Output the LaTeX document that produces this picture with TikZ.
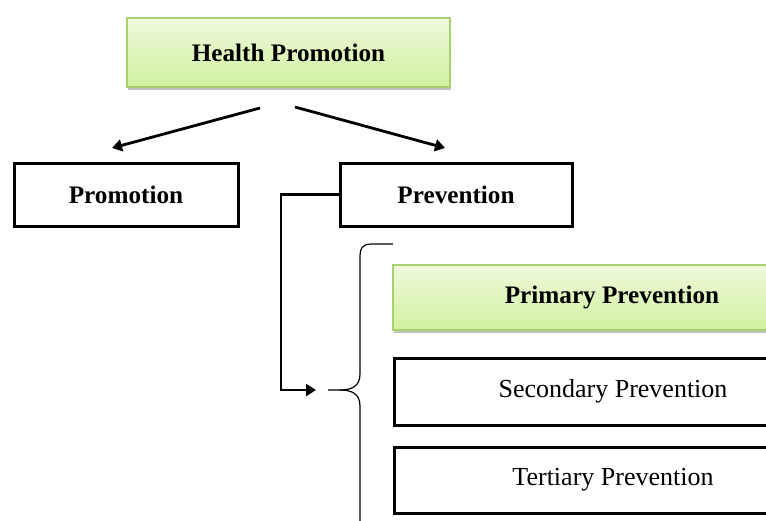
\documentclass[tikz,border=0pt]{standalone}
\usepackage{fontspec}
\setmainfont{Liberation Serif}
\usetikzlibrary{shadows,arrows.meta}

\definecolor{gtop}{HTML}{EEF9DC}
\definecolor{gbot}{HTML}{D2F1A0}
\definecolor{gline}{HTML}{A8D070}
\newcommand{\headfont}{\fontsize{12.6}{14}\selectfont\bfseries}
\newcommand{\bodyfont}{\fontsize{13}{15}\selectfont}

\tikzset{
  greenbox/.style={draw=gline, line width=0.8pt, top color=gtop, bottom color=gbot,
    drop shadow={shadow xshift=0.6pt, shadow yshift=-1.5pt, opacity=0.35, fill=black!70}},
  plainbox/.style={draw=black, line width=1.5pt, fill=white},
  link/.style={line width=1.4pt, -{Triangle[length=5pt,width=6pt]}},
  bracket/.style={line width=0.6pt}
}

\begin{document}
\begin{tikzpicture}[x=0.5pt, y=-0.5pt]
\useasboundingbox (0,0) rectangle (766,520);
\clip (0,0) rectangle (766,520);

\node[greenbox, minimum width=161.5pt, minimum height=34.5pt] (health) at (288.5,52.5) {\headfont Health Promotion};
\node[plainbox, minimum width=112pt, minimum height=31.5pt] (promo) at (126,194.5) {\headfont Promotion};
\node[plainbox, minimum width=116pt, minimum height=31.5pt] (prev) at (456,194.5) {\headfont Prevention};

\node[greenbox, minimum width=219pt, minimum height=32.5pt] (primary) at (612,297.5) {\headfont Primary Prevention};
\node[plainbox, minimum width=219pt, minimum height=33.5pt] (second) at (613,391.5) {\bodyfont Secondary Prevention};
\node[plainbox, minimum width=219pt, minimum height=33pt] (tert) at (613,480) {\bodyfont Tertiary Prevention};

\path (260,108) coordinate (hl);
\path (295,107) coordinate (hr);
\path (112,148) coordinate (promotop);
\path (445,148) coordinate (prevtop);
\draw[link] (hl) -- (promotop);
\draw[link] (hr) -- (prevtop);

\path (281,390) coordinate (bend);
\path (316,390) coordinate (inend);
\draw[link] (prev.west) -| (bend) -- (inend);

\path (328,390) coordinate (brtip);
\draw[bracket] (brtip) -- (340,390) .. controls (352,390) and (360,386) .. (360,374)
  -- (360,258) .. controls (360,248) and (362,244) .. (372,244) -- (393,244);
\draw[bracket] (340,390) .. controls (352,390) and (360,394) .. (360,406) -- (360,530);
\end{tikzpicture}
\end{document}
